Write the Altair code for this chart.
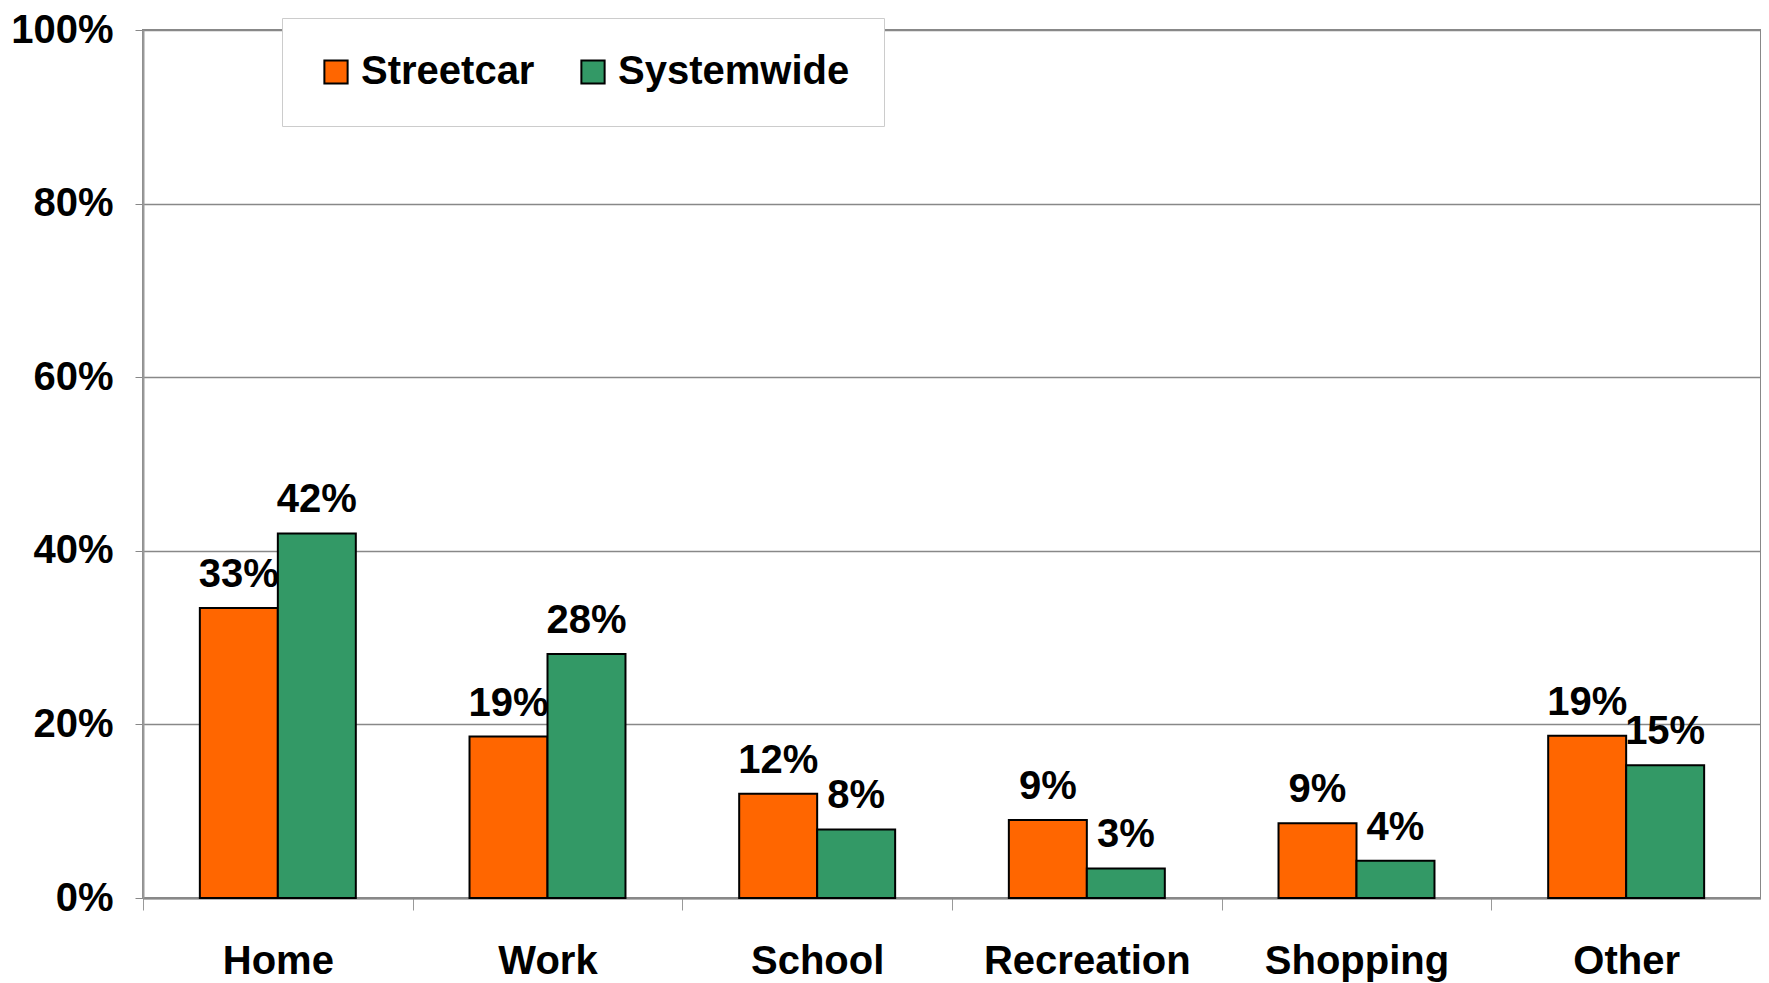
import altair as alt
import pandas as pd

categories = ["Home", "Work", "School", "Recreation", "Shopping", "Other"]
series = ["Streetcar", "Systemwide"]
streetcar = [0.334, 0.186, 0.120, 0.090, 0.086, 0.187]
systemwide = [0.420, 0.281, 0.079, 0.034, 0.043, 0.153]
colors = ["#FF6600", "#339966"]
y_ticks = [0, 0.2, 0.4, 0.6, 0.8, 1.0]

rows = []
for c, a, b in zip(categories, streetcar, systemwide):
    rows.append({"category": c, "series": series[0], "value": a})
    rows.append({"category": c, "series": series[1], "value": b})
df = pd.DataFrame(rows)

FONT = "Liberation Sans"
FS = 40

x = alt.X("category:N", sort=categories, title=None,
          scale=alt.Scale(paddingInner=0, paddingOuter=0),
          axis=alt.Axis(labelAngle=0, labelFontSize=FS, labelFont=FONT,
                        labelFontWeight="bold", labelColor="black",
                        labelLimit=500,
                        tickBand="extent", tickSize=12, tickColor="#999999",
                        domainColor="#888888", domainWidth=2,
                        labelPadding=31, grid=False))
xo = alt.XOffset("series:N", sort=series,
                 scale=alt.Scale(paddingOuter=0.729, paddingInner=0))
y = alt.Y("value:Q", title=None,
          scale=alt.Scale(domain=[0, 1], nice=False),
          axis=alt.Axis(values=y_ticks, format=".0%", labelFontSize=FS,
                        labelFont=FONT, labelFontWeight="bold",
                        labelColor="black", tickSize=8, tickColor="#888888",
                        domainColor="#999999", domainWidth=2,
                        gridColor="#888888", gridWidth=1.3,
                        labelPadding=22))

color = alt.Color("series:N", sort=series,
                  scale=alt.Scale(domain=series, range=colors),
                  legend=alt.Legend(title=None, orient="none", direction="horizontal",
                                    legendX=139, legendY=-12,
                                    fillColor="white", strokeColor="#cccccc",
                                    padding=34, symbolType="square",
                                    symbolSize=540, symbolStrokeColor="black",
                                    symbolStrokeWidth=2, labelFontSize=FS,
                                    labelFont=FONT, labelFontWeight="bold",
                                    labelColor="black", labelOffset=5,
                                    columnPadding=38, labelLimit=400))

bars = alt.Chart(df).mark_bar(stroke="black", strokeWidth=2).encode(
    x=x, xOffset=xo, y=y, color=color
)

labels = alt.Chart(df).mark_text(
    font=FONT, fontWeight="bold", fontSize=FS, color="black",
    baseline="alphabetic", dy=-21
).encode(
    x=alt.X("category:N", sort=categories),
    xOffset=xo,
    y=alt.Y("value:Q"),
    text=alt.Text("value:Q", format=".0%"),
)

chart = (bars + labels).properties(
    width=1618, height=868,
    autosize=alt.AutoSizeParams(type="none"),
    padding={"left": 135, "top": 22, "right": 0, "bottom": 95},
    background="white",
).configure_view(stroke="#888888", strokeWidth=2)

chart.save("out.html", embed_options={"renderer": "svg", "actions": False})
